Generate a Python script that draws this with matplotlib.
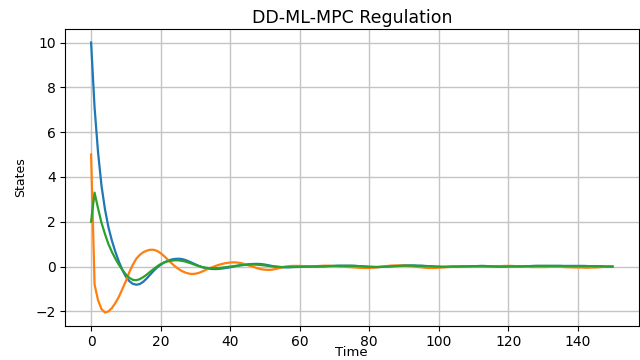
import numpy as np
import matplotlib
matplotlib.use("Agg")
import matplotlib.pyplot as plt

# Closed-loop state trajectories of the regulated system
time = np.arange(151)

x1 = [
    10.0, 7.1, 5.1, 3.6, 2.55, 1.75, 1.15, 0.65, 0.22, -0.15,
    -0.45, -0.65, -0.77, -0.81, -0.78, -0.68, -0.53, -0.36, -0.19, -0.04,
    0.08, 0.18, 0.26, 0.31, 0.34, 0.35, 0.34, 0.30, 0.24, 0.17,
    0.10, 0.03, -0.03, -0.07, -0.10, -0.11, -0.11, -0.10, -0.08, -0.06,
    -0.03, 0.0, 0.03, 0.06, 0.08, 0.10, 0.11, 0.12, 0.12, 0.11,
    0.09, 0.06, 0.03, 0.0, -0.02, -0.03,
    -0.03, -0.03, -0.02, -0.02, -0.01,
    -0.01, 0.0, 0.0, 0.0, 0.0, 0.01, 0.01, 0.02, 0.03, 0.03,
    0.04, 0.04, 0.04, 0.04, 0.04, 0.03, 0.02, 0.01, 0.0, -0.01,
    -0.02, -0.02, -0.02, -0.01, 0.0, 0.01, 0.02, 0.03, 0.04, 0.05,
    0.05, 0.05, 0.05, 0.04, 0.04, 0.03, 0.02, 0.01, 0.0, -0.01,
    -0.01, -0.01, -0.01, 0.0, 0.0, 0.0, 0.01, 0.01, 0.02, 0.02,
    0.02, 0.03, 0.03, 0.02, 0.01, 0.0, 0.0, 0.0, 0.0, 0.01,
    0.01, 0.01, 0.01, 0.01, 0.02, 0.02, 0.03, 0.03, 0.03, 0.03,
    0.03, 0.03, 0.03, 0.03, 0.03, 0.03, 0.03, 0.03, 0.03, 0.03,
    0.03, 0.03, 0.02, 0.02, 0.01, 0.01, 0.01, 0.0, 0.0, 0.0,
]

x2 = [
    5.0, -0.8, -1.5, -1.9, -2.05, -2.0, -1.85, -1.62, -1.35, -1.0,
    -0.65, -0.25, 0.08, 0.35, 0.52, 0.64, 0.71, 0.75, 0.75, 0.70,
    0.60, 0.47, 0.32, 0.17, 0.03, -0.09, -0.19, -0.26, -0.31, -0.33,
    -0.32, -0.28, -0.22, -0.15, -0.08, -0.02, 0.04, 0.09, 0.13, 0.16,
    0.18, 0.19, 0.18, 0.16, 0.12, 0.07, 0.02, -0.03, -0.08, -0.12,
    -0.14, -0.15, -0.14, -0.11, -0.07, -0.03,
    0.0, 0.02, 0.03, 0.03, 0.03,
    0.02, 0.02, 0.01, 0.01, 0.02, 0.03, 0.04, 0.04, 0.03, 0.02,
    0.01, 0.0, -0.01, -0.02, -0.03, -0.04, -0.05, -0.06, -0.06, -0.06,
    -0.05, -0.04, -0.02, 0.0, 0.02, 0.04, 0.05, 0.05, 0.05, 0.04,
    0.03, 0.02, 0.0, -0.02, -0.03, -0.05, -0.06, -0.06, -0.06, -0.05,
    -0.04, -0.03, -0.02, -0.01, 0.0, 0.0, 0.01, 0.01, 0.01, 0.01,
    0.01, 0.0, 0.0, -0.01, -0.01, 0.0, 0.01, 0.02, 0.03, 0.03,
    0.03, 0.02, 0.02, 0.01, 0.0, -0.01, -0.02, -0.02, -0.02, -0.02,
    -0.02, -0.01, -0.01, -0.01, -0.01, -0.02, -0.03, -0.03, -0.04, -0.04,
    -0.04, -0.05, -0.05, -0.04, -0.04, -0.03, -0.02, -0.01, 0.0, 0.0,
]

x3 = [
    2.0, 3.3, 2.6, 1.95, 1.45, 1.0, 0.65, 0.35, 0.08, -0.15,
    -0.35, -0.5, -0.59, -0.61, -0.56, -0.47, -0.36, -0.23, -0.11, 0.01,
    0.11, 0.18, 0.23, 0.26, 0.28, 0.28, 0.26, 0.23, 0.18, 0.13,
    0.07, 0.02, -0.02, -0.05, -0.07, -0.07, -0.07, -0.06, -0.04, -0.02,
    0.0, 0.02, 0.04, 0.06, 0.07, 0.08, 0.09, 0.09, 0.08, 0.07,
    0.05, 0.03, 0.01, 0.0, -0.01, -0.02,
    -0.02, -0.02, -0.02, -0.01, -0.01,
    0.0, 0.0, 0.0, 0.0, 0.01, 0.01, 0.01, 0.02, 0.02, 0.03,
    0.03, 0.03, 0.03, 0.03, 0.03, 0.03, 0.02, 0.01, 0.0, -0.01,
    -0.01, -0.02, -0.01, -0.01, 0.0, 0.01, 0.02, 0.02, 0.03, 0.04,
    0.04, 0.04, 0.04, 0.03, 0.03, 0.02, 0.02, 0.01, 0.0, 0.0,
    -0.01, -0.01, 0.0, 0.0, 0.0, 0.0, 0.01, 0.01, 0.01, 0.02,
    0.02, 0.02, 0.02, 0.02, 0.01, 0.01, 0.0, 0.0, 0.0, 0.01,
    0.01, 0.01, 0.01, 0.01, 0.02, 0.02, 0.02, 0.03, 0.03, 0.03,
    0.03, 0.03, 0.03, 0.03, 0.03, 0.02, 0.02, 0.02, 0.02, 0.02,
    0.02, 0.02, 0.02, 0.02, 0.01, 0.01, 0.01, 0.0, 0.0, 0.0,
]

fig = plt.figure(figsize=(6.4, 3.6), dpi=100)
ax = fig.add_axes([0.1016, 0.0944, 0.8961, 0.825])

for series in (x1, x2, x3):
    ax.plot(time, series, linewidth=1.6)

ax.set_title("DD-ML-MPC Regulation", fontsize=12.5, pad=4)
ax.set_xlabel("Time", fontsize=9.5)
ax.xaxis.set_label_coords(0.5, -0.067)
ax.set_ylabel("States", fontsize=9, labelpad=6)
ax.tick_params(labelsize=10, pad=3)
ax.grid(True, linewidth=1.0, color="#c4c4c4")

fig.savefig("out.png", dpi=100)
